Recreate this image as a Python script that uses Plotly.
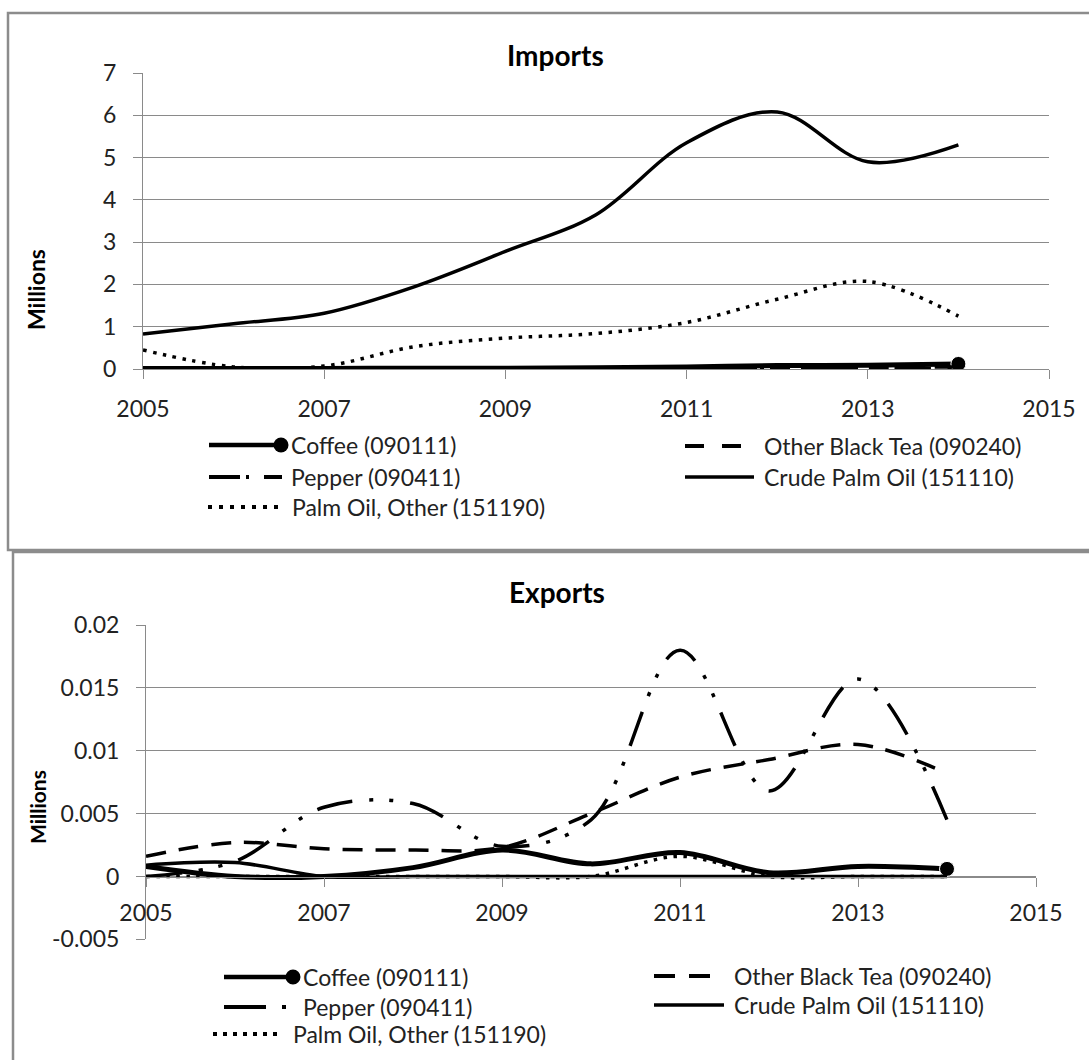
import plotly.graph_objects as go

# ---------------- data (values in millions) ----------------
years = [2005, 2006, 2007, 2008, 2009, 2010, 2011, 2012, 2013, 2014]

series_names = [
    "Coffee (090111)",
    "Other Black Tea (090240)",
    "Pepper (090411)",
    "Crude Palm Oil (151110)",
    "Palm Oil, Other (151190)",
]

imports_coffee = [0.01, 0.01, 0.01, 0.02, 0.02, 0.03, 0.05, 0.08, 0.09, 0.12]
imports_black_tea = [0.0, 0.0, 0.0, 0.01, 0.01, 0.02, 0.03, 0.04, 0.04, 0.05]
imports_pepper = [0.0, 0.0, 0.0, 0.0, 0.0, 0.0, 0.0, 0.0, 0.01, 0.01]
imports_crude_palm = [0.83, 1.07, 1.32, 1.95, 2.78, 3.65, 5.35, 6.08, 4.9, 5.3]
imports_palm_other = [0.45, 0.05, 0.07, 0.53, 0.73, 0.84, 1.1, 1.65, 2.07, 1.25]

exports_coffee = [0.0008, 0.0, 0.0, 0.0007, 0.0021, 0.001, 0.0019, 0.0003, 0.0008, 0.0006]
exports_black_tea = [0.0016, 0.0027, 0.0022, 0.0021, 0.0023, 0.005, 0.0079, 0.0093, 0.0105, 0.0082]
exports_pepper = [0.0, 0.0012, 0.0055, 0.0058, 0.0024, 0.0045, 0.018, 0.0068, 0.0157, 0.0045]
exports_crude_palm = [0.0009, 0.0011, 0.0, 0.0, 0.0, 0.0, 0.0, 0.0, 0.0, 0.0]
exports_palm_other = [0.0, 0.0, 0.0, 0.0, 0.0, 0.0, 0.0016, 0.0, 0.0, 0.0]

x_ticks = [2005, 2007, 2009, 2011, 2013, 2015]
imports_y_ticks = [0, 1, 2, 3, 4, 5, 6, 7]
exports_y_ticks = [-0.005, 0, 0.005, 0.01, 0.015, 0.02]
exports_y_ticktext = ["-0.005", "0", "0.005", "0.01", "0.015", "0.02"]

# ---------------- layout helpers ----------------
W, H = 1089, 1060
FONT = "Lato"
TXT = "#222222"
GRID = "#8a8a8a"


def px(x):
    return x / W


def py(y):
    return 1 - y / H


# per-series line styles: (dash, width)
line_styles = [
    ("solid", 5),
    ("20px,13px", 3.5),
    ("36px,17px,4px,16px,4px,17px", 3.5),
    ("solid", 3.5),
    ("3.5px,6.5px", 3.5),
]

fig = go.Figure()


def add_panel(values, xa, ya):
    for name, vals, (dash, width) in zip(series_names, values, line_styles):
        is_coffee = name.startswith("Coffee")
        fig.add_trace(go.Scatter(
            x=years, y=vals, name=name, xaxis=xa, yaxis=ya,
            mode="lines+markers" if is_coffee else "lines",
            line=dict(color="black", width=width, dash=dash, shape="spline", smoothing=1),
            marker=dict(color="black", opacity=1, size=[0] * (len(years) - 1) + [15]) if is_coffee else None,
            showlegend=False, hoverinfo="skip",
        ))


add_panel([imports_coffee, imports_black_tea, imports_pepper, imports_crude_palm, imports_palm_other], "x", "y")
add_panel([exports_coffee, exports_black_tea, exports_pepper, exports_crude_palm, exports_palm_other], "x2", "y2")

tickfont = dict(family=FONT, size=23, color=TXT)
common_x = dict(range=[2005, 2015], tickvals=x_ticks, ticks="outside", ticklen=9, tickcolor=GRID,
                showline=True, linecolor=GRID, linewidth=1, showgrid=False, zeroline=False,
                tickfont=tickfont, fixedrange=True, automargin=False)
common_y = dict(ticks="outside", ticklen=9, tickcolor=GRID, showline=True, linecolor=GRID, linewidth=1,
                showgrid=True, gridcolor=GRID, gridwidth=1, zeroline=False, tickfont=tickfont,
                fixedrange=True, automargin=False)

fig.update_layout(
    width=W, height=H, autosize=False,
    margin=dict(l=0, r=0, t=0, b=0, pad=0, autoexpand=False),
    paper_bgcolor="white", plot_bgcolor="white", showlegend=False,
    xaxis=dict(domain=[px(143), px(1049)], anchor="y", ticklabelstandoff=10, **common_x),
    yaxis=dict(domain=[py(369), py(73)], anchor="x", range=[0, 7], tickvals=imports_y_ticks,
               ticklabelstandoff=12, **common_y),
    xaxis2=dict(domain=[px(146), px(1036)], anchor="free", position=py(877), ticklabelstandoff=6,
                **common_x),
    yaxis2=dict(domain=[py(939.3), py(625)], anchor="x2", range=[-0.005, 0.02], tickvals=exports_y_ticks,
                ticktext=exports_y_ticktext, ticklabelstandoff=12, **common_y),
)

shapes = []
annotations = []

# chart-area frames
shapes.append(dict(type="rect", xref="paper", yref="paper", x0=px(8), x1=px(1100), y0=py(550), y1=py(13),
                   line=dict(color="#8c8c8c", width=2.5), layer="below"))
shapes.append(dict(type="rect", xref="paper", yref="paper", x0=px(13), x1=px(1100), y0=py(1075), y1=py(552),
                   line=dict(color="#8c8c8c", width=2.5), layer="below"))

# titles
for text, cx, cy in [("Imports", 555, 55), ("Exports", 557, 592)]:
    annotations.append(dict(text=f"<b>{text}</b>", x=px(cx), y=py(cy), xref="paper", yref="paper",
                            showarrow=False, xanchor="center", yanchor="middle",
                            font=dict(family=FONT, size=28, color="black")))
for cx, cy, size in [(36, 290, 23), (37, 807, 21)]:
    annotations.append(dict(text="<b>Millions</b>", x=px(cx), y=py(cy), xref="paper", yref="paper",
                            showarrow=False, textangle=-90, xanchor="center", yanchor="middle",
                            font=dict(family=FONT, size=size, color="black")))


def legend_item(name, x0, x1, y, tx, dash, width, marker=False):
    shapes.append(dict(type="line", xref="paper", yref="paper", x0=px(x0), x1=px(x1), y0=py(y), y1=py(y),
                       line=dict(color="black", width=width, dash=dash)))
    if marker:
        r = 7.5
        shapes.append(dict(type="circle", xref="paper", yref="paper", x0=px(x1 - r), x1=px(x1 + r),
                           y0=py(y + r), y1=py(y - r), fillcolor="black", line=dict(color="black", width=0)))
    annotations.append(dict(text=name, x=px(tx), y=py(y), xref="paper", yref="paper", showarrow=False,
                            xanchor="left", yanchor="middle", font=dict(family=FONT, size=23, color=TXT)))


# imports legend
legend_item(series_names[0], 209, 281, 445, 289, "solid", 4.5, marker=True)
legend_item(series_names[2], 209, 282, 477, 289, "31px,6px,3px,15px", 4)
legend_item(series_names[4], 208, 279, 507, 290, "4px,7px", 4)
legend_item(series_names[1], 685, 741, 446, 762, "19px,18px", 4)
legend_item(series_names[3], 685, 754, 477, 762, "solid", 3.5)

# exports legend
legend_item(series_names[0], 224, 293, 977, 301, "solid", 4.5, marker=True)
legend_item(series_names[2], 224, 290, 1007, 301, "42px,16px,4px,30px", 4)
legend_item(series_names[4], 213, 278, 1034, 291, "4px,6px", 4)
legend_item(series_names[1], 654, 710, 976, 732, "21px,14px", 4)
legend_item(series_names[3], 654, 724, 1005, 732, "solid", 3.5)

fig.update_layout(shapes=shapes, annotations=annotations)

fig.write_html("out.html")
